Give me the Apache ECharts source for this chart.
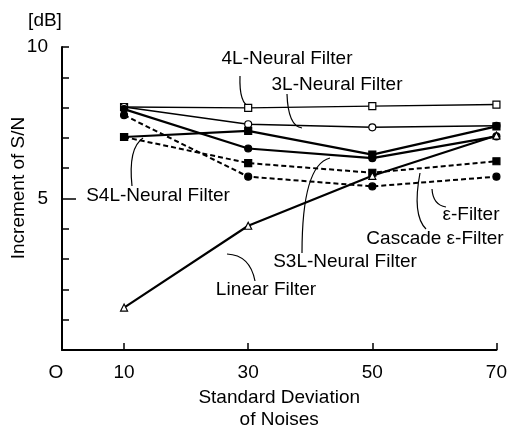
<!DOCTYPE html>
<html>
<head>
<meta charset="utf-8">
<script src="https://cdn.jsdelivr.net/npm/echarts@6/dist/echarts.min.js"></script>
<style>
  html, body { margin: 0; padding: 0; background: #fff; }
  #chart { width: 510px; height: 436px; }
</style>
</head>
<body>
<div id="chart"></div>
<script>
// noise standard deviation (x) and S/N increment in dB (y)
const noiseStd = [10, 30, 50, 70]
const nn4L = [8.02, 7.99, 8.05, 8.1]
const nn3L = [8.02, 7.45, 7.35, 7.4]
const nnS4L = [7.03, 7.23, 6.45, 7.38]
const nnS3L = [7.95, 6.65, 6.33, 7.05]
const cascadeEps = [7.03, 6.17, 5.85, 6.23]
const epsFilter = [7.75, 5.72, 5.4, 5.72]
const linearFilter = [1.4, 4.1, 5.75, 7.08]

const xTicks = [10, 30, 50, 70]
const xLabels = [0, 10, 30, 50, 70]
const yLabels = [5, 10]

const font = 'Liberation Sans, Arial, sans-serif'
const fs = 19

const pts = (ys) => noiseStd.map((x, i) => [x, ys[i]])

const mkSeries = (name, ys, symbol, filled, dashed, width) => ({
  name: name,
  type: 'line',
  data: pts(ys),
  symbol: symbol,
  symbolSize: 7,
  showSymbol: true,
  z: 3,
  lineStyle: { color: '#000', width: width, type: dashed ? [5, 3] : 'solid' },
  itemStyle: { color: filled ? '#000' : '#fff', borderColor: '#000', borderWidth: 1.2 },
  emphasis: { disabled: true },
  animation: false
})

// text labels with curved leader lines (pixel layout)
const notes = [
  { text: '4L-Neural Filter', x: 287, y: 59, c: [240, 76, 239, 104, 250, 107] },
  { text: '3L-Neural Filter', x: 337, y: 85, c: [287, 94, 288, 126, 302, 128] },
  { text: 'S4L-Neural Filter', x: 158, y: 196, c: [132, 186, 128, 148, 143, 138] },
  { text: 'ε-Filter', x: 471, y: 215, c: [432, 189, 433, 205, 446, 207] },
  { text: 'Cascade ε-Filter', x: 435, y: 239, c: [420, 173, 412, 215, 426, 229] },
  { text: 'S3L-Neural Filter', x: 345, y: 262, c: [302, 253, 302, 165, 330, 158] },
  { text: 'Linear Filter', x: 266, y: 290, c: [255, 281, 250, 255, 227, 254] }
]

const graphics = []
notes.forEach(n => {
  graphics.push({
    type: 'text',
    x: n.x, y: n.y,
    style: { text: n.text, font: fs + 'px ' + font, fill: '#000', align: 'center', verticalAlign: 'middle' }
  })
  graphics.push({
    type: 'bezierCurve',
    shape: { x1: n.c[0], y1: n.c[1], cpx1: n.c[2], cpy1: n.c[3], x2: n.c[4], y2: n.c[5] },
    style: { stroke: '#000', lineWidth: 1.2, fill: null }
  })
})
graphics.push({
  type: 'text', x: 45, y: 21,
  style: { text: '[dB]', font: fs + 'px ' + font, fill: '#000', align: 'center', verticalAlign: 'middle' }
})
graphics.push({
  type: 'text', x: 19, y: 188, rotation: Math.PI / 2,
  style: { text: 'Increment of S/N', font: fs + 'px ' + font, fill: '#000', align: 'center', verticalAlign: 'middle' }
})

const chart = echarts.init(document.getElementById('chart'))
chart.setOption({
  animation: false,
  grid: { left: 62, right: 7, top: 47, bottom: 76 },
  xAxis: {
    type: 'value',
    min: 0, max: 70, interval: 10,
    name: 'Standard Deviation\nof Noises',
    nameLocation: 'middle',
    nameGap: 37,
    nameTextStyle: { color: '#000', fontSize: fs, fontFamily: font, lineHeight: 22 },
    axisLine: { lineStyle: { color: '#000', width: 2 } },
    axisTick: { inside: true, length: 7, customValues: xTicks, lineStyle: { color: '#000', width: 1.5 } },
    axisLabel: {
      customValues: xLabels, margin: 13, color: '#000', fontSize: fs, fontFamily: font,
      formatter: v => v === 0 ? '{o|O}' : String(v),
      rich: { o: { fontSize: fs, fontFamily: font, color: '#000', padding: [0, 12, 0, 0] } }
    },
    splitLine: { show: false }
  },
  yAxis: [{
    type: 'value',
    min: 0, max: 10, interval: 1,
    axisLine: { show: true, lineStyle: { color: '#000', width: 2 } },
    axisTick: { inside: true, length: 7, lineStyle: { color: '#000', width: 1.5 } },
    axisLabel: { customValues: yLabels, margin: 14, color: '#000', fontSize: fs, fontFamily: font },
    splitLine: { show: false }
  }, {
    // longer mid tick at 5
    type: 'value',
    position: 'left',
    min: 0, max: 10, interval: 1,
    axisLine: { show: false },
    axisTick: { inside: true, length: 14, customValues: [5], lineStyle: { color: '#000', width: 1.5 } },
    axisLabel: { show: false },
    splitLine: { show: false }
  }],
  series: [
    mkSeries('4L-Neural Filter', nn4L, 'rect', false, false, 1.4),
    mkSeries('3L-Neural Filter', nn3L, 'circle', false, false, 1.4),
    mkSeries('S4L-Neural Filter', nnS4L, 'rect', true, false, 2.2),
    mkSeries('S3L-Neural Filter', nnS3L, 'circle', true, false, 2.2),
    mkSeries('Cascade ε-Filter', cascadeEps, 'rect', true, true, 2),
    mkSeries('ε-Filter', epsFilter, 'circle', true, true, 2),
    mkSeries('Linear Filter', linearFilter, 'triangle', false, false, 2.2)
  ],
  graphic: graphics
})
</script>
</body>
</html>
